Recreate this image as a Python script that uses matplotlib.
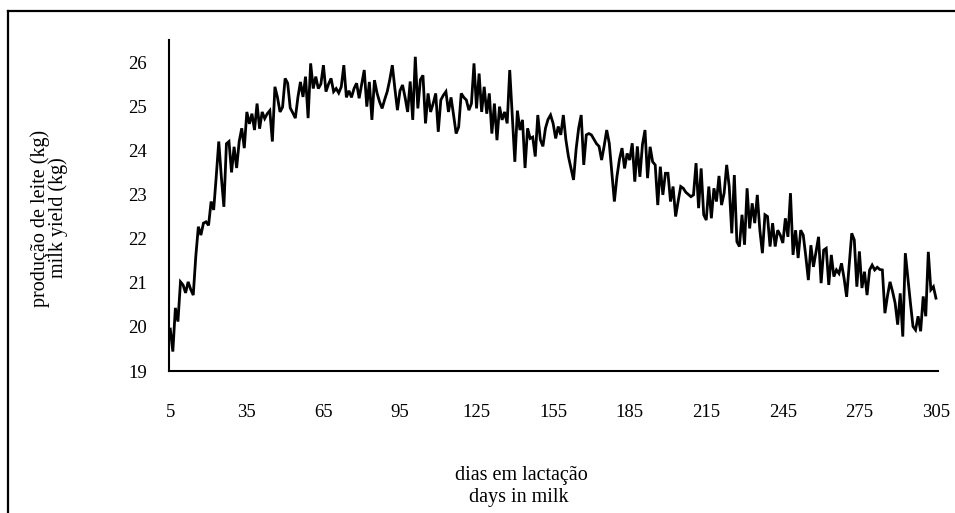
import numpy as np
import matplotlib
matplotlib.use("Agg")
import matplotlib.pyplot as plt
from matplotlib.lines import Line2D

# daily milk yield (kg), days in milk 5..305
milk_yield = [
    19.95, 19.44, 20.43, 20.12, 21.02, 20.95, 20.77, 21.02, 20.85, 20.72,
    21.60, 22.27, 22.08, 22.35, 22.38, 22.30, 22.84, 22.65, 23.40, 24.20,
    23.40, 22.72, 24.15, 24.20, 23.50, 24.08, 23.60, 24.20, 24.50, 24.05,
    24.87, 24.60, 24.83, 24.46, 25.06, 24.49, 24.87, 24.72, 24.83, 24.90,
    24.20, 25.44, 25.20, 24.87, 24.98, 25.63, 25.52, 24.96, 24.85, 24.73,
    25.20, 25.55, 25.21, 25.67, 24.73, 25.97, 25.40, 25.67, 25.40, 25.50,
    25.93, 25.33, 25.50, 25.63, 25.33, 25.40, 25.30, 25.44, 25.93, 25.20,
    25.35, 25.20, 25.40, 25.52, 25.18, 25.50, 25.82, 24.99, 25.55, 24.69,
    25.59, 25.30, 25.10, 24.95, 25.15, 25.33, 25.60, 25.93, 25.40, 24.91,
    25.35, 25.48, 25.20, 24.87, 25.56, 24.69, 26.12, 24.95, 25.60, 25.70,
    24.61, 25.29, 24.87, 25.06, 25.29, 24.42, 25.14, 25.25, 25.33, 24.87,
    25.20, 24.80, 24.38, 24.53, 25.29, 25.20, 25.14, 24.91, 25.06, 25.97,
    24.95, 25.74, 24.87, 25.44, 24.83, 25.29, 24.38, 25.06, 24.23, 24.99,
    24.69, 24.87, 24.61, 25.82, 24.80, 23.74, 24.90, 24.46, 24.69, 23.60,
    24.50, 24.27, 24.30, 23.86, 24.80, 24.24, 24.09, 24.50, 24.70, 24.80,
    24.61, 24.27, 24.54, 24.35, 24.80, 24.24, 23.86, 23.60, 23.33, 24.02,
    24.50, 24.80, 23.67, 24.35, 24.38, 24.35, 24.25, 24.15, 24.09, 23.78,
    24.10, 24.46, 24.16, 23.50, 22.84, 23.40, 23.80, 24.05, 23.59, 23.93,
    23.78, 24.16, 23.29, 24.09, 23.40, 24.13, 24.46, 23.37, 24.08, 23.74,
    23.67, 22.76, 23.63, 22.99, 23.48, 23.48, 22.84, 23.18, 22.50, 22.85,
    23.18, 23.14, 23.05, 23.00, 22.95, 22.99, 23.71, 22.69, 23.59, 22.54,
    22.42, 23.18, 22.46, 23.14, 22.84, 23.42, 22.76, 23.03, 23.67, 23.18,
    22.12, 23.44, 21.93, 21.82, 22.54, 21.86, 23.14, 22.23, 22.80, 22.35,
    22.99, 22.19, 21.67, 22.54, 22.50, 21.82, 22.35, 21.82, 22.19, 22.08,
    21.90, 22.46, 22.04, 23.03, 21.63, 22.19, 21.56, 22.19, 22.08, 21.60,
    21.06, 21.85, 21.36, 21.70, 22.04, 20.99, 21.74, 21.78, 20.95, 21.63,
    21.14, 21.29, 21.21, 21.44, 21.10, 20.68, 21.40, 22.12, 21.97, 20.91,
    21.71, 20.88, 21.25, 20.72, 21.29, 21.40, 21.29, 21.35, 21.30, 21.29,
    20.31, 20.70, 21.02, 20.80, 20.54, 20.05, 20.76, 19.78, 21.67, 21.10,
    20.54, 20.01, 19.93, 20.24, 19.90, 20.69, 20.24, 21.70, 20.84, 20.91,
    20.65,
]
days = np.arange(5, 5 + len(milk_yield))

x_ticks = [5, 35, 65, 95, 125, 155, 185, 215, 245, 275, 305]
y_ticks = [19, 20, 21, 22, 23, 24, 25, 26]

ylabel_lines = ["produção de leite (kg)", "milk yield (kg)"]
xlabel_lines = ["dias em lactação", "days in milk"]

W, H = 955, 513
plt.rcParams['font.family'] = ['Liberation Serif', 'DejaVu Serif']
fig = plt.figure(figsize=(W / 100, H / 100), dpi=100)
ax = fig.add_axes([169 / W, 1 - 371 / H, (938 - 169) / W, (371 - 40) / H])

ax.plot(days, milk_yield, color='black', lw=2.0, solid_joinstyle='miter')
ax.set_xlim(4.5, 305.8)
ax.set_ylim(19, 26.5)
ax.set_xticks(x_ticks)
ax.set_yticks(y_ticks)
ax.set_xticklabels([str(t) for t in x_ticks])
ax.set_yticklabels([str(t) for t in y_ticks])
for s in ['top', 'right']:
    ax.spines[s].set_visible(False)
for s in ['left', 'bottom']:
    ax.spines[s].set_linewidth(1.5)
    ax.spines[s].set_color('black')
ax.tick_params(axis='both', length=0, labelsize=13.5, colors='black')
ax.tick_params(axis='y', pad=16)
ax.tick_params(axis='x', pad=24)

# y-axis title (two rotated lines)
fig.text(40 / W, 1 - 218 / H, ylabel_lines[0], rotation=90, ha='center', va='center',
         fontsize=14.5)
fig.text(58 / W, 1 - 218 / H, ylabel_lines[1], rotation=90, ha='center', va='center',
         fontsize=14.5)
# x-axis title (two lines)
fig.text(521 / W, 1 - 480 / H, xlabel_lines[0], ha='center', va='baseline', fontsize=14.5)
fig.text(519 / W, 1 - 502 / H, xlabel_lines[1], ha='center', va='baseline', fontsize=14.5)

# outer frame (top and left edges visible)
fig.add_artist(Line2D([7.5 / W, 7.5 / W], [0, 1 - 10.5 / H], color='black', lw=1.6,
                      transform=fig.transFigure))
fig.add_artist(Line2D([7.5 / W, 1], [1 - 10.5 / H, 1 - 10.5 / H], color='black', lw=1.6,
                      transform=fig.transFigure))

fig.savefig('out.png', dpi=100)
